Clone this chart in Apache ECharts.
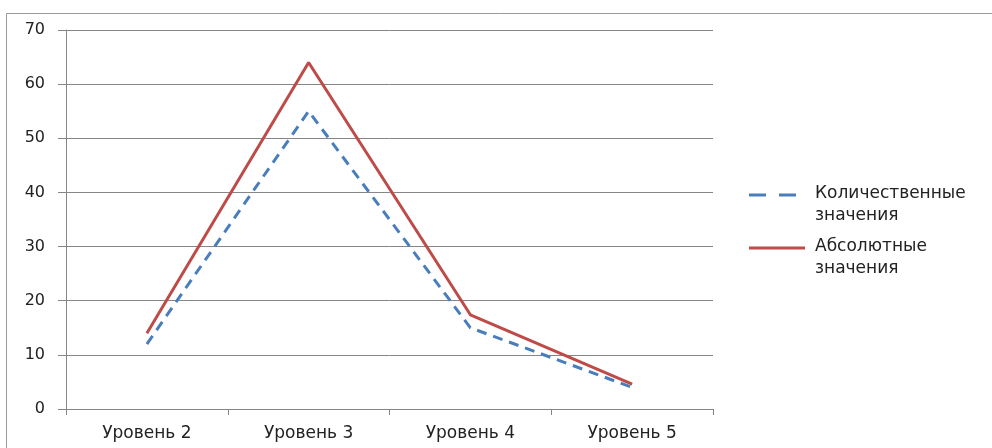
<!DOCTYPE html>
<html><head><meta charset="utf-8">
<script src="https://cdn.jsdelivr.net/npm/echarts@6/dist/echarts.min.js"></script>
<style>html,body{margin:0;padding:0;background:#fff}#c{width:992px;height:448px}</style>
</head><body><div id="c"></div>
<script>
const categories = ['Уровень 2', 'Уровень 3', 'Уровень 4', 'Уровень 5'];
const quantValues = [12, 55, 15, 4];
const absValues = [14, 64, 17.4, 4.6];
const yTicks = [0, 10, 20, 30, 40, 50, 60, 70];
const seriesNames = ['Количественные\nзначения', 'Абсолютные\nзначения'];

const BLUE = '#4A7EBB', RED = '#BE4B48';
const FONT = 'DejaVu Sans, sans-serif';

const chart = echarts.init(document.getElementById('c'));
chart.setOption({
  animation: false,
  backgroundColor: '#fff',
  textStyle: { fontFamily: FONT },
  graphic: [
    { type: 'rect', left: 4, top: 11, shape: { width: 1000, height: 460 },
      style: { fill: 'none', stroke: '#9a9a9a', lineWidth: 1 } },
    { type: 'line', shape: { x1: 749, y1: 195, x2: 799, y2: 195 },
      style: { stroke: BLUE, lineWidth: 3, lineDash: [17, 13] } },
    { type: 'text', x: 815, y: 183,
      style: { text: seriesNames[0], fill: '#222', font: '17px ' + FONT, lineHeight: 22 } },
    { type: 'line', shape: { x1: 749, y1: 248, x2: 805, y2: 248 },
      style: { stroke: RED, lineWidth: 3 } },
    { type: 'text', x: 815, y: 236,
      style: { text: seriesNames[1], fill: '#222', font: '17px ' + FONT, lineHeight: 22 } }
  ],
  grid: { left: 66, right: 279, top: 30, bottom: 39 },
  xAxis: {
    type: 'category', data: categories, boundaryGap: true,
    axisLine: { lineStyle: { color: '#868686', width: 1 } },
    axisTick: { show: true, alignWithLabel: false, length: 6, lineStyle: { color: '#868686' } },
    axisLabel: { color: '#222', fontSize: 17, margin: 16 }
  },
  yAxis: {
    type: 'value', min: 0, max: 70, interval: 10,
    axisLine: { show: true, lineStyle: { color: '#868686', width: 1 } },
    axisTick: { show: true, length: 8, lineStyle: { color: '#868686' } },
    axisLabel: { color: '#222', fontSize: 16, margin: 21,
      formatter: v => yTicks.includes(v) ? String(v) : '' },
    splitLine: { lineStyle: { color: '#868686', width: 1 } }
  },
  series: [
    { name: seriesNames[0], type: 'line', data: quantValues, symbol: 'none',
      lineStyle: { color: BLUE, width: 3, type: [10, 7] }, itemStyle: { color: BLUE } },
    { name: seriesNames[1], type: 'line', data: absValues, symbol: 'none',
      lineStyle: { color: RED, width: 3 }, itemStyle: { color: RED } }
  ]
});
</script></body></html>
